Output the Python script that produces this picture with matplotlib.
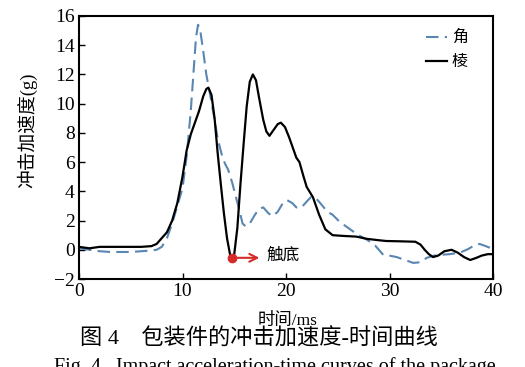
import matplotlib
matplotlib.use("Agg")
import matplotlib.pyplot as plt

plt.rcParams['font.family'] = ['Liberation Serif', 'Noto Sans CJK SC']

# edge (棱) curve
t_edge = [0, 0.5, 1, 2, 4, 6, 7, 7.5, 8, 8.5, 9, 9.5, 10, 10.4, 10.8, 11.2, 11.6, 12, 12.3, 12.5,
          12.8, 13.1, 13.4, 13.7, 14, 14.3, 14.6, 14.8, 15, 15.3, 15.6, 15.9, 16.2, 16.5, 16.8,
          17.1, 17.4, 17.8, 18.1, 18.4, 18.8, 19.2, 19.5, 19.9, 20.3, 20.7, 21, 21.3, 21.7, 22,
          22.6, 23.2, 23.8, 24.5, 25.5, 26.8, 27.8, 29, 29.7, 31, 32.5, 33, 33.4, 33.8, 34.2,
          34.7, 35.3, 36, 36.6, 37.2, 37.8, 38.4, 38.9, 39.5, 40]
a_edge = [0.2, 0.15, 0.1, 0.2, 0.2, 0.2, 0.25, 0.4, 0.8, 1.2, 2.0, 3.2, 5.0, 6.8, 7.9, 8.7, 9.5,
          10.5, 11.0, 11.1, 10.6, 9.0, 6.6, 4.5, 2.5, 0.8, -0.35, -0.55, -0.3, 1.5, 4.5, 7.2, 9.8,
          11.5, 12.0, 11.6, 10.4, 8.9, 8.1, 7.8, 8.2, 8.6, 8.7, 8.4, 7.7, 6.9, 6.3, 6.0, 5.0, 4.3,
          3.6, 2.4, 1.4, 1.0, 0.95, 0.9, 0.75, 0.65, 0.6, 0.58, 0.55, 0.35, 0.0, -0.3, -0.5,
          -0.4, -0.1, 0.0, -0.2, -0.5, -0.7, -0.55, -0.4, -0.3, -0.3]

# corner (角) curve
t_corner = [0, 1, 2, 3, 4, 5, 6, 7, 7.5, 8, 8.5, 9, 9.5, 10, 10.4, 10.8, 11.1, 11.3, 11.5, 11.7,
            12, 12.3, 12.7, 13.1, 13.4, 13.8, 14.1, 14.4, 14.8, 15.2, 15.5, 15.8, 16.1, 16.5,
            17, 17.4, 17.8, 18.3, 18.7, 19.2, 19.7, 20.1, 20.6, 21, 21.5, 22, 22.4, 22.8, 23.3,
            24, 24.5, 25.2, 26.2, 27, 27.8, 28.6, 29.4, 30, 30.7, 31.5, 32.3, 33, 33.6, 34.3,
            34.9, 35.8, 36.8, 37.6, 38.2, 38.7, 39.3, 40]
a_corner = [0.1, 0.0, -0.1, -0.15, -0.15, -0.15, -0.1, -0.05, 0.0, 0.2, 0.8, 1.8, 3.0, 4.2, 6.4,
            9.5, 12.5, 14.5, 15.4, 15.1, 13.6, 12.0, 10.5, 8.9, 7.6, 6.5, 5.9, 5.5, 4.6, 3.5,
            2.7, 1.8, 1.6, 1.8, 2.4, 2.8, 2.9, 2.5, 2.3, 2.6, 3.2, 3.4, 3.2, 2.9, 2.9, 3.3, 3.6,
            3.6, 3.2, 2.6, 2.4, 1.9, 1.4, 1.0, 0.7, 0.3, -0.35, -0.4, -0.5, -0.7, -0.9, -0.85,
            -0.55, -0.4, -0.35, -0.3, -0.2, 0.05, 0.3, 0.4, 0.25, 0.05]

bottom_point = (14.8, -0.55)
xticks = [0, 10, 20, 30, 40]
yticks = [-2, 0, 2, 4, 6, 8, 10, 12, 14, 16]

W, H = 525, 367
fig = plt.figure(figsize=(W / 100, H / 100), dpi=100)
ax = fig.add_axes([79 / W, 1 - 279 / H, (493 - 79) / W, (279 - 16) / H])

ax.plot(t_corner, a_corner, color='#5a86b2', lw=1.5, ls=(0, (6, 3)), label='角')
ax.plot(t_edge, a_edge, color='black', lw=1.6, label='棱')

# bottoming-out marker
ax.plot(*bottom_point, 'o', color='#d42a2a', ms=6, zorder=5)
ax.annotate('', xy=(bottom_point[0] + 2.9, bottom_point[1]), xytext=bottom_point,
            arrowprops=dict(arrowstyle='->', color='#d42a2a', lw=1.5, mutation_scale=14))
ax.text(bottom_point[0] + 3.3, bottom_point[1] + 0.15, '触底', fontsize=12, va='center', ha='left')

ax.set_xlim(0, 40)
ax.set_ylim(-2, 16)
ax.set_xticks(xticks)
ax.set_yticks(yticks)
ax.set_yticklabels(['\u22122' if v < 0 else str(v) for v in yticks])
ax.tick_params(direction='in', length=4, width=1, labelsize=14, pad=3)
for s in ax.spines.values():
    s.set_linewidth(1.5)

ax.legend(loc='upper right', bbox_to_anchor=(0.955, 0.97), frameon=False, fontsize=11.5,
          handlelength=1.3, handletextpad=0.3, labelspacing=0.5, borderaxespad=0)

fig.text(27 / W, 1 - 130 / H, '冲击加速度(g)', rotation=90, fontsize=13.5,
         ha='center', va='center')
fig.text(288 / W, 1 - 321 / H, '时间/ms', fontsize=12.5, ha='center', va='center')
fig.text(80 / W, 1 - 339 / H, '图 4\u3000包装件的冲击加速度-时间曲线', fontsize=16,
         ha='left', va='center')
fig.text(275 / W, 1 - 357 / H, 'Fig. 4   Impact acceleration-time curves of the package',
         fontsize=14.5, ha='center', va='top')

fig.savefig('out.png', dpi=100)
